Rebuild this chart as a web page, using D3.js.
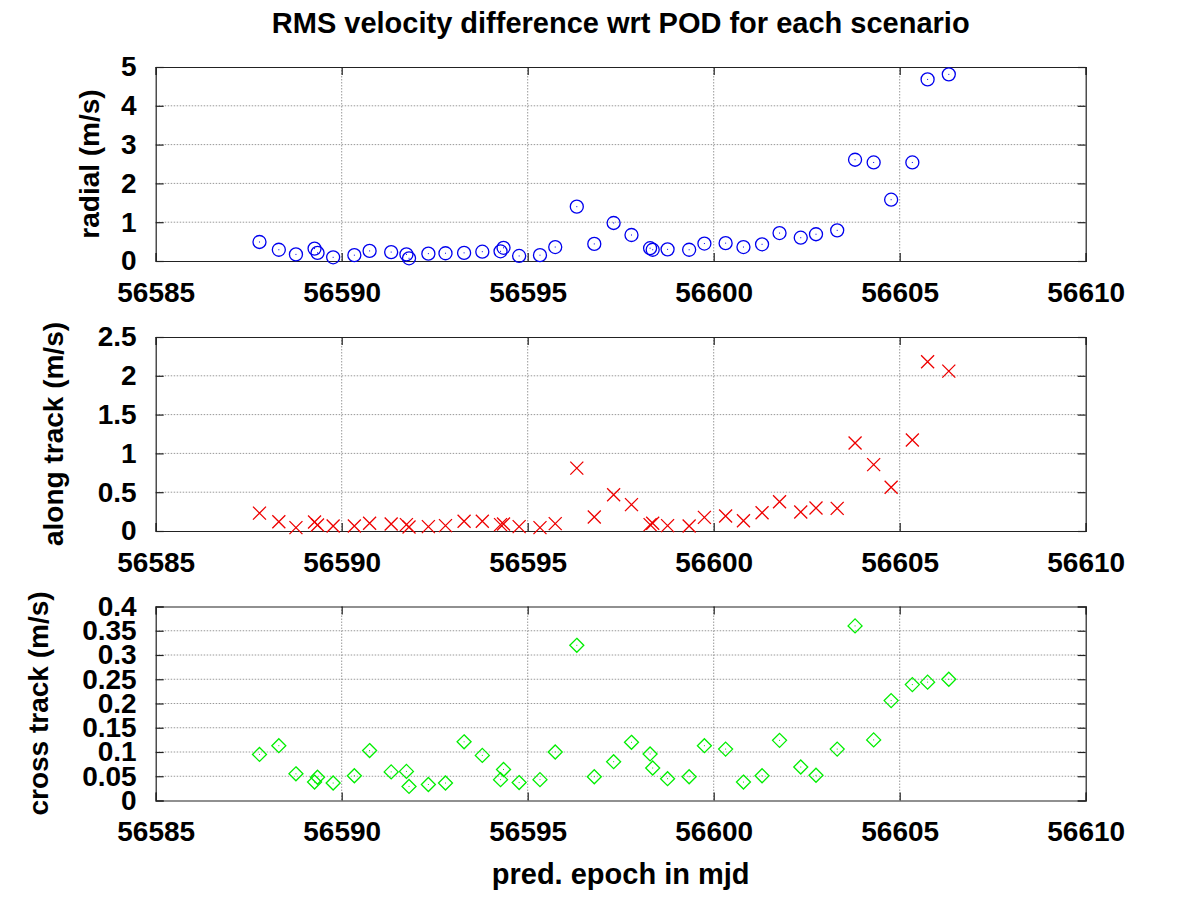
<!DOCTYPE html>
<html>
<head>
<meta charset="utf-8">
<script src="https://cdn.jsdelivr.net/npm/d3@7"></script>
<style>
  body { margin: 0; background: #fff; }
  svg text { font-family: "Liberation Sans", Arial, Helvetica, sans-serif; font-weight: bold; fill: #000; }
</style>
</head>
<body>
<svg id="chart"></svg>
<script>
// prediction epochs (mjd), shared by the three panels
var mjd = [56587.79, 56588.31, 56588.77, 56589.27, 56589.35, 56589.77, 56590.34, 56590.75,
  56591.33, 56591.74, 56591.81, 56592.33, 56592.79, 56593.29, 56593.78, 56594.27, 56594.35,
  56594.77, 56595.33, 56595.74, 56596.32, 56596.79, 56597.31, 56597.79, 56598.29, 56598.36,
  56598.76, 56599.34, 56599.75, 56600.32, 56600.80, 56601.30, 56601.77, 56602.34, 56602.75,
  56603.32, 56603.80, 56604.30, 56604.77, 56605.34, 56605.75, 56606.32];

// rms velocity differences (m/s)
var radial = [0.49, 0.29, 0.17, 0.32, 0.21, 0.095, 0.15, 0.26, 0.23, 0.17, 0.07, 0.19, 0.20,
  0.21, 0.24, 0.25, 0.34, 0.13, 0.15, 0.36, 1.40, 0.44, 0.98, 0.67, 0.33, 0.29, 0.30, 0.29,
  0.45, 0.46, 0.36, 0.43, 0.72, 0.60, 0.69, 0.79, 2.61, 2.54, 1.58, 2.54, 4.68, 4.81];
var alongTrack = [0.23, 0.12, 0.043, 0.116, 0.077, 0.064, 0.064, 0.099, 0.09, 0.082, 0.052,
  0.056, 0.069, 0.125, 0.125, 0.082, 0.09, 0.056, 0.043, 0.095, 0.81, 0.18, 0.468, 0.34,
  0.082, 0.099, 0.069, 0.064, 0.176, 0.193, 0.133, 0.236, 0.378, 0.245, 0.296, 0.292, 1.134,
  0.855, 0.563, 1.173, 2.18, 2.06];
var crossTrack = [0.095, 0.113, 0.055, 0.038, 0.048, 0.036, 0.051, 0.103, 0.059, 0.060, 0.029,
  0.033, 0.036, 0.121, 0.093, 0.043, 0.064, 0.037, 0.043, 0.100, 0.320, 0.049, 0.080, 0.120,
  0.096, 0.067, 0.045, 0.049, 0.113, 0.106, 0.038, 0.051, 0.124, 0.069, 0.052, 0.106, 0.360,
  0.125, 0.206, 0.239, 0.244, 0.250];

// tick values
var xTicks = [56585, 56590, 56595, 56600, 56605, 56610];
var radialTicks = [0, 1, 2, 3, 4, 5];
var alongTicks = [0, 0.5, 1, 1.5, 2, 2.5];
var crossTicks = [0, 0.05, 0.1, 0.15, 0.2, 0.25, 0.3, 0.35, 0.4];

// texts
var title = 'RMS velocity difference wrt POD for each scenario';
var xLabel = 'pred. epoch in mjd';
var yLabels = ['radial (m/s)', 'along track (m/s)', 'cross track (m/s)'];

// layout
var width = 1200, height = 900;
var left = 155.7, right = 1085.7;
var panelH = 194;
var panelTops = [67, 337, 606.5];
var labelX = [99, 63, 48];
var fontSize = 28;

var svg = d3.select('#chart')
  .attr('width', width)
  .attr('height', height)
  .style('background', '#fff');

var x = d3.scaleLinear().domain([56585, 56610]).range([left, right]);

var panels = [
  { values: radial, ticks: radialTicks, marker: 'circle', color: '#0000ee' },
  { values: alongTrack, ticks: alongTicks, marker: 'cross', color: '#ee0000' },
  { values: crossTrack, ticks: crossTicks, marker: 'diamond', color: '#00ee00' }
];

svg.append('text')
  .attr('x', (left + right) / 2)
  .attr('y', 33)
  .attr('text-anchor', 'middle')
  .style('font-size', '29px')
  .text(title);

svg.append('text')
  .attr('x', (left + right) / 2)
  .attr('y', 884)
  .attr('text-anchor', 'middle')
  .style('font-size', '29px')
  .text(xLabel);

panels.forEach(function(p, i) {
  var top = panelTops[i];
  var bottom = top + panelH;
  var ticks = p.ticks;
  var y = d3.scaleLinear().domain([ticks[0], ticks[ticks.length - 1]]).range([bottom, top]);

  var g = svg.append('g');

  // dotted grid
  g.selectAll('line.hgrid')
    .data(ticks.slice(1, -1))
    .enter()
    .append('line')
      .attr('x1', left).attr('x2', right)
      .attr('y1', function(d) { return y(d); })
      .attr('y2', function(d) { return y(d); })
      .style('stroke', '#999')
      .style('stroke-dasharray', '1.5,1.5');
  g.selectAll('line.vgrid')
    .data(xTicks.slice(1, -1))
    .enter()
    .append('line')
      .attr('x1', function(d) { return x(d); })
      .attr('x2', function(d) { return x(d); })
      .attr('y1', top).attr('y2', bottom)
      .style('stroke', '#999')
      .style('stroke-dasharray', '1.5,1.5');

  // axes with inward ticks, mirrored on top and right
  g.append('g')
    .attr('transform', 'translate(0,' + bottom + ')')
    .call(d3.axisBottom(x).tickValues(xTicks).tickFormat(d3.format('d'))
      .tickSize(-8).tickPadding(21));
  g.append('g')
    .attr('transform', 'translate(0,' + top + ')')
    .call(d3.axisTop(x).tickValues(xTicks).tickFormat('').tickSize(-8));
  g.append('g')
    .attr('transform', 'translate(' + left + ',0)')
    .call(d3.axisLeft(y).tickValues(ticks).tickFormat(function(d) { return String(d); })
      .tickSize(-8).tickPadding(19));
  g.append('g')
    .attr('transform', 'translate(' + right + ',0)')
    .call(d3.axisRight(y).tickValues(ticks).tickFormat('').tickSize(-8));

  g.selectAll('.domain').style('stroke', '#222').style('stroke-width', 1.2);
  g.selectAll('.tick line').style('stroke', '#222').style('stroke-width', 1.2);
  g.selectAll('.tick text')
    .style('font-family', '"Liberation Sans", Arial, sans-serif')
    .style('font-weight', 'bold')
    .style('font-size', fontSize + 'px')
    .style('fill', '#000');

  // y label
  svg.append('text')
    .attr('transform', 'translate(' + labelX[i] + ',' + (top + bottom) / 2 + ') rotate(-90)')
    .attr('text-anchor', 'middle')
    .style('font-size', fontSize + 'px')
    .text(yLabels[i]);

  // points
  var pts = g.selectAll('g.pt')
    .data(mjd.map(function(d, j) { return { x: d, v: p.values[j] }; }))
    .enter()
    .append('g')
      .attr('class', 'pt')
      .attr('transform', function(d) { return 'translate(' + x(d.x) + ',' + y(d.v) + ')'; });

  if (p.marker === 'circle') {
    pts.append('circle').attr('r', 6.5);
  } else if (p.marker === 'cross') {
    pts.append('path').attr('d', 'M-6.5,-6.5L6.5,6.5M-6.5,6.5L6.5,-6.5');
  } else {
    pts.append('path').attr('d', 'M0,-7L7,0L0,7L-7,0Z');
  }
  pts.selectAll('circle, path')
    .style('fill', 'none')
    .style('stroke', p.color)
    .style('stroke-width', 1.3);
  pts.append('rect')
    .attr('x', -0.5).attr('y', -0.5)
    .attr('width', 1).attr('height', 1)
    .style('fill', p.color);
});
</script>
</body>
</html>
